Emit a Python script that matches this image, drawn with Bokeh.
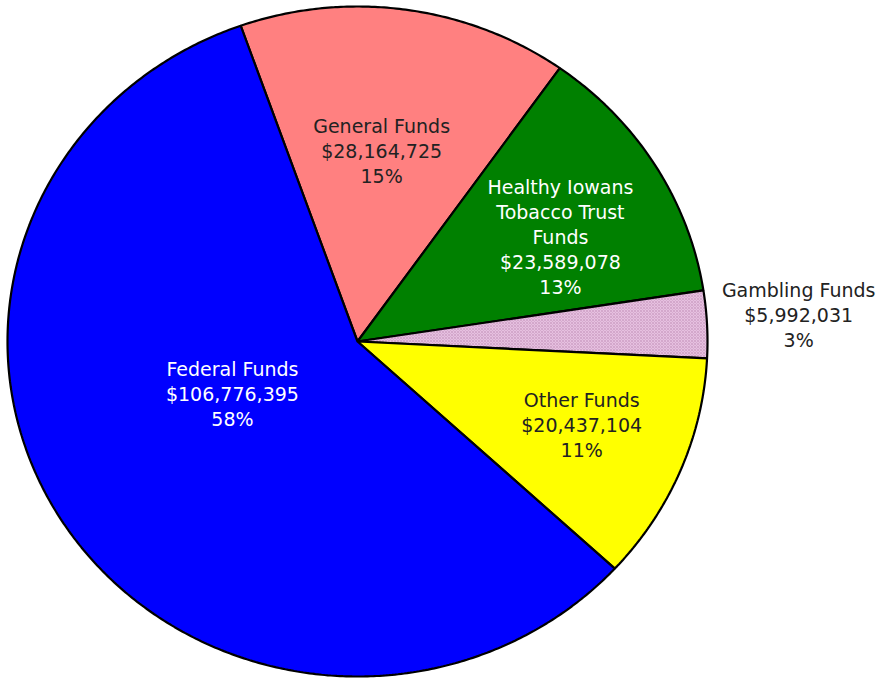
import numpy as np
from bokeh.plotting import figure
from bokeh.models import ColumnDataSource, Range1d
from bokeh.core.properties import value
from bokeh.embed import file_html
from bokeh.resources import INLINE

# ---- data ----
categories = ["General Funds", "Healthy Iowans\nTobacco Trust\nFunds", "Gambling Funds",
              "Other Funds", "Federal Funds"]
amounts = [28164725, 23589078, 5992031, 20437104, 106776395]
amount_labels = ["$28,164,725", "$23,589,078", "$5,992,031", "$20,437,104", "$106,776,395"]
percent_labels = ["15%", "13%", "3%", "11%", "58%"]

# ---- style ----
colors = ["#FF8080", "#008000", "#E6C0E0", "#FFFF00", "#0000FF"]
text_colors = ["#222222", "#FFFFFF", "#222222", "#222222", "#FFFFFF"]
label_r = [0.573, 0.658, 1.263, 0.687, 0.39]
label_dang = [1.0, -3.5, 0.7, 1.6, -9.8]
start_deg = 109.5
line_gap = 25

W, H = 881, 678
cx_px, cy_px = 357, 341   # centre from top-left of the figure
rx_px, ry_px = 350, 335

total = float(sum(amounts))
fracs = [a / total for a in amounts]

xs, ys = [], []
tx, ty, tt, tc, toff = [], [], [], [], []
ang = np.deg2rad(start_deg)
for i, f in enumerate(fracs):
    sweep = 2 * np.pi * f
    a0, a1 = ang, ang - sweep
    n = max(8, int(np.degrees(sweep) * 2))
    t = np.linspace(a0, a1, n)
    xs.append([0.0] + list(np.cos(t)) + [0.0])
    ys.append([0.0] + list(np.sin(t)) + [0.0])
    mid = (a0 + a1) / 2 + np.deg2rad(label_dang[i])
    lx = label_r[i] * np.cos(mid)
    ly = label_r[i] * np.sin(mid)
    lines = categories[i].split("\n") + [amount_labels[i], percent_labels[i]]
    k = len(lines)
    for j, s in enumerate(lines):
        tx.append(lx)
        ty.append(ly)
        tt.append(s)
        tc.append(text_colors[i])
        toff.append((j - (k - 1) / 2) * line_gap)
    ang = a1

p = figure(width=W, height=H, output_backend="svg", toolbar_location=None,
           x_range=Range1d(-cx_px / rx_px, (W - cx_px) / rx_px),
           y_range=Range1d(-(H - cy_px) / ry_px, cy_px / ry_px),
           min_border=0)
p.axis.visible = False
p.grid.visible = False
p.outline_line_color = None
p.background_fill_color = "white"

src = ColumnDataSource(dict(xs=xs, ys=ys, color=colors,
                            hatch=[" ", " ", "diagonal_cross", " ", " "]))
p.patches("xs", "ys", source=src, fill_color="color", line_color="black", line_width=2.2,
          hatch_pattern="hatch", hatch_color="#B07AA6", hatch_scale=3, hatch_alpha=0.6,
          hatch_weight=0.6)

tsrc = ColumnDataSource(dict(x=tx, y=ty, text=tt, tc=tc, off=toff))
p.text("x", "y", text="text", source=tsrc, text_color="tc", text_align="center",
       text_baseline="middle", y_offset="off", text_font=value("DejaVu Sans"),
       text_font_size="19px")

open("out.html", "w").write(file_html(p, INLINE))
